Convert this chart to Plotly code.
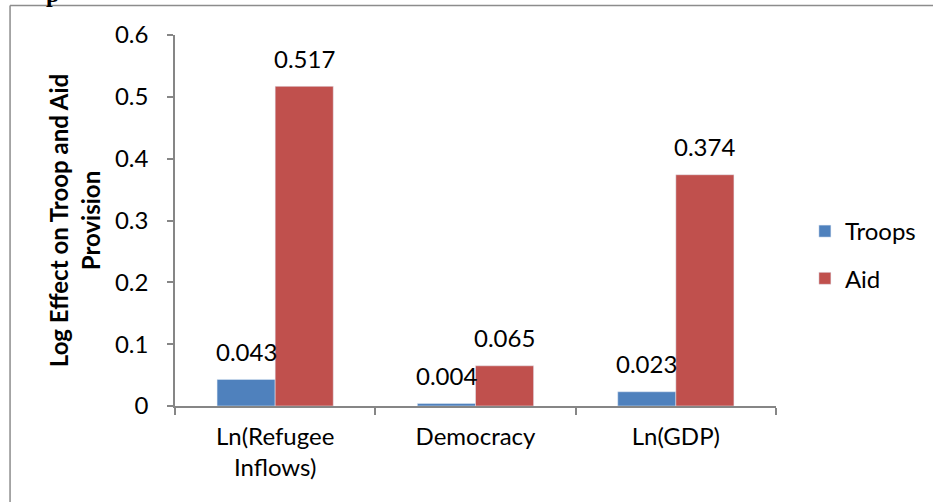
import plotly.graph_objects as go

categories = ["Ln(Refugee<br>Inflows)", "Democracy", "Ln(GDP)"]
troops = [0.043, 0.004, 0.023]
aid = [0.517, 0.065, 0.374]
y_ticks = [0, 0.1, 0.2, 0.3, 0.4, 0.5, 0.6]

BLUE = "#4F81BD"
RED = "#C0504D"
GRID = "#868686"
FONT = "Lato"

W, H = 933, 502
ML, MR, MT, MB = 175, 155, 35, 96
PW, PH = W - ML - MR, H - MT - MB


def px_x(px):
    return (px - ML) / PW


def px_y(py):
    return (H - MB - py) / PH


fig = go.Figure()
fig.add_trace(go.Bar(x=categories, y=troops, name="Troops", marker_color=BLUE,
                     legendgroup="t"))
fig.add_trace(go.Bar(x=categories, y=aid, name="Aid", marker_color=RED,
                     legendgroup="a"))

# value labels above each bar
annotations = []
for vals, shift in ((troops, -29), (aid, 29)):
    for cat, v in zip(categories, vals):
        annotations.append(dict(x=cat, y=v, xref="x", yref="y", text=f"{v:.3f}",
                                showarrow=False, xshift=shift, yshift=28,
                                yanchor="middle",
                                font=dict(family=FONT, size=24, color="black")))

# clipped caption fragment at the top edge
annotations.append(dict(x=px_x(52), y=px_y(9), xref="paper", yref="paper",
                        text="<b>p</b>", showarrow=False, yanchor="bottom",
                        xanchor="center",
                        font=dict(family="Liberation Serif", size=24, color="black")))

shapes = [
    dict(type="line", xref="paper", yref="paper", x0=px_x(9.5), y0=px_y(5.5),
         x1=px_x(W + 5), y1=px_y(5.5), line=dict(color="#8C8C8C", width=1.5)),
    dict(type="line", xref="paper", yref="paper", x0=px_x(9.5), y0=px_y(5.5),
         x1=px_x(9.5), y1=px_y(H + 5), line=dict(color="#8C8C8C", width=1.5)),
]

fig.update_layout(
    width=W, height=H,
    margin=dict(l=ML, r=MR, t=MT, b=MB, pad=0),
    paper_bgcolor="white", plot_bgcolor="white",
    barmode="group", bargap=0.42, bargroupgap=0,
    font=dict(family=FONT, size=24, color="black"),
    showlegend=True,
    legend=dict(x=px_x(807), y=px_y(209), xanchor="left", yanchor="top",
                tracegroupgap=13, font=dict(family=FONT, size=24),
                bgcolor="rgba(0,0,0,0)"),
    annotations=annotations,
    shapes=shapes,
)
fig.update_xaxes(showline=True, linecolor=GRID, linewidth=1.5,
                 ticks="outside", tickson="boundaries", ticklen=7,
                 tickcolor=GRID, tickwidth=1.5, ticklabelstandoff=8,
                 tickfont=dict(family=FONT, size=24), showgrid=False)
fig.update_yaxes(range=[0, 0.6], tickvals=y_ticks,
                 ticktext=[f"{t:g}" for t in y_ticks],
                 showline=True, linecolor=GRID, linewidth=1.5,
                 ticks="outside", ticklen=6, tickcolor=GRID, tickwidth=1.5,
                 ticklabelstandoff=14, showgrid=False, zeroline=False,
                 tickfont=dict(family=FONT, size=24),
                 title=dict(text="<b>Log Effect on Troop and Aid<br>Provision</b>",
                            font=dict(family=FONT, size=24), standoff=8))

fig.write_html("out.html")
